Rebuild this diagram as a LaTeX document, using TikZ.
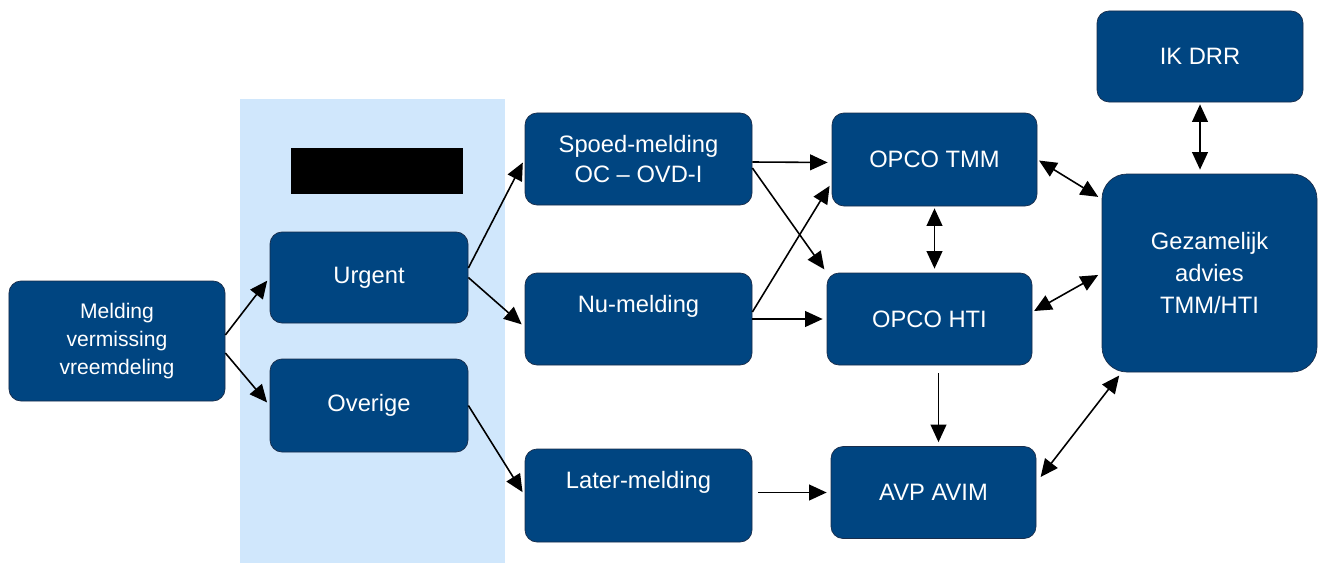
\documentclass[tikz,border=0pt]{standalone}
\usepackage{fontspec}
\setmainfont{Liberation Sans}
\usepackage{tikz}
\usetikzlibrary{arrows.meta,positioning}
\definecolor{mvblue}{RGB}{0,69,129}
\definecolor{mvedge}{RGB}{25,45,75}
\definecolor{mvlightblue}{RGB}{208,231,252}
\tikzstyle{stap} = [rectangle, rounded corners=0.24cm, minimum width=4.54cm, minimum height=1.84cm, align=center, draw=mvedge, line width=0.4pt, fill=mvblue, text=white, font=\fontsize{13.5}{17.6}\selectfont]
\tikzstyle{arrow} = [line width=0.9pt, -{Triangle[length=10pt,width=9pt]}, shorten >=0.08cm, color=black]
\tikzstyle{twoway} = [arrow, {Triangle[length=10pt,width=9pt]}-{Triangle[length=10pt,width=9pt]}, shorten <=0.04cm]

\begin{document}
\begin{tikzpicture}
\useasboundingbox (0,0) rectangle (26.36,-11.26);
% Background band
\fill[mvlightblue] (4.80,-1.98) rectangle (10.10,-11.26);

% Boxes
\node (melding) [stap, minimum width=4.32cm, minimum height=2.40cm, font=\fontsize{12}{15.9}\selectfont] at (2.34,-6.82) {Melding\\vermissing\\vreemdeling};
\node (zwart) [rectangle, fill=black, minimum width=3.44cm, minimum height=0.92cm] at (7.54,-3.42) {};
\node (urgent) [stap, minimum width=3.96cm, minimum height=1.82cm] at (7.38,-5.55) {Urgent};
\node (overige) [stap, minimum width=3.96cm, minimum height=1.86cm] at (7.38,-8.11) {Overige};
\node (spoed) [stap] at (12.77,-3.18) {Spoed-melding\\OC -- OVD-I};
\node (nu) [stap] at (12.77,-6.38) {Nu-melding\\\mbox{}};
\node (later) [stap, minimum height=1.86cm] at (12.77,-9.91) {Later-melding\\\mbox{}};
\node (tmm) [stap, minimum width=4.10cm, minimum height=1.86cm] at (18.69,-3.19) {OPCO TMM};
\node (hti) [stap, minimum width=4.10cm] at (18.59,-6.38) {OPCO HTI};
\node (avp) [stap, minimum width=4.10cm] at (18.67,-9.85) {AVP AVIM};
\node (ikdrr) [stap, minimum width=4.12cm, minimum height=1.82cm] at (24.00,-1.13) {IK DRR};
\node (gez) [stap, rounded corners=0.5cm, minimum width=4.30cm, minimum height=3.96cm, font=\fontsize{13.5}{18.1}\selectfont] at (24.19,-5.46) {Gezamelijk\\advies\\TMM/HTI};

% Arrows
\draw[arrow] ([yshift=0.12cm]melding.east) -- (urgent.west);
\draw[arrow] ([yshift=-0.24cm]melding.east) -- (overige.west);
\draw[arrow] ([yshift=0.19cm]urgent.east) -- (spoed.west);
\draw[arrow] (urgent.east) -- ([yshift=-0.16cm]nu.west);
\draw[arrow] (overige.east) -- (later.west);
\draw[arrow] ([yshift=-0.06cm]spoed.east) -- ([yshift=-0.06cm]tmm.west);
\draw[arrow] ([yshift=-0.18cm]spoed.east) -- (hti.north west);
\draw[arrow] ([yshift=0.14cm]nu.east) -- ([yshift=-0.46cm]tmm.west);
\draw[arrow] (nu.east) -- (hti.west);
\draw[arrow, shorten <=0.12cm] (later.east |- avp.west) -- (avp.west);
\draw[arrow, shorten <=0.16cm] ([xshift=0.1cm]avp.north |- hti.south) -- ([xshift=0.1cm]avp.north);
\draw[twoway] (tmm.south) -- (tmm.south |- hti.north);
\draw[twoway] (ikdrr.south) -- (ikdrr.south |- gez.north);
\draw[twoway] (tmm.east) -- ([yshift=1.48cm]gez.west);
\draw[twoway] ([yshift=0.14cm]hti.east) -- (gez.west);
\draw[twoway, shorten <=0.14cm] ([yshift=0.2cm]avp.east) -- ([xshift=0.4cm]gez.south west);
\end{tikzpicture}
\end{document}
